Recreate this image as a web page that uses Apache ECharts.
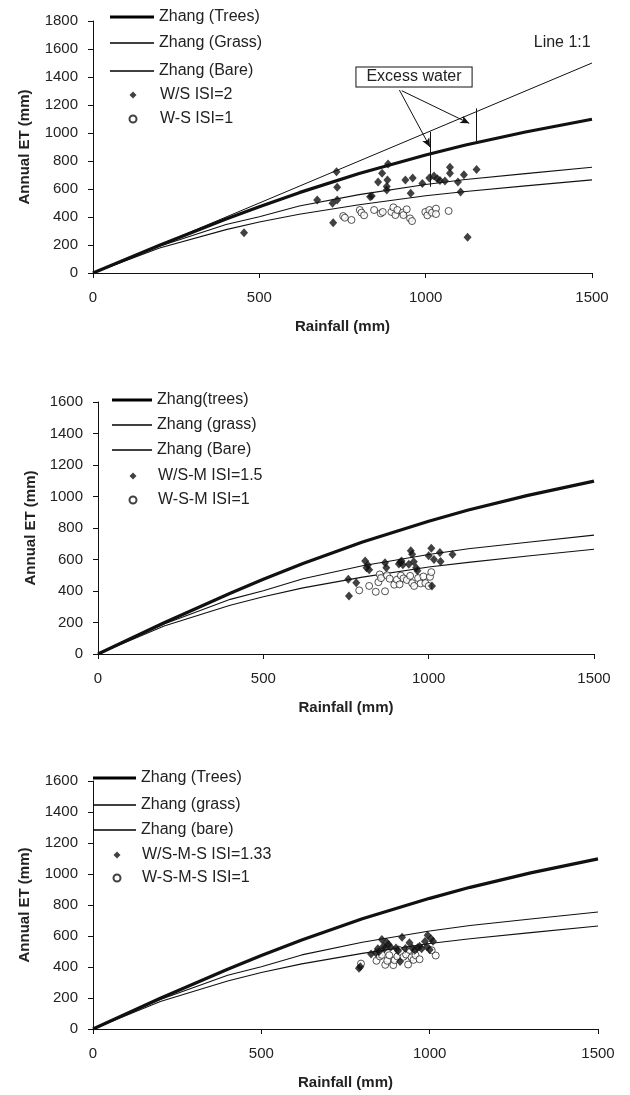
<!doctype html>
<html lang="en">
<head>
<meta charset="utf-8">
<title>Annual ET vs rainfall</title>
<script src="https://cdn.jsdelivr.net/npm/echarts@6/dist/echarts.min.js"></script>
<style>
  html, body { margin: 0; padding: 0; background: #fff; }
  #main { width: 630px; height: 1095px; }
</style>
</head>
<body>
<div id="main"></div>
<script>
// Zhang curves (same curves in all three panels)
var rainfall = [0, 200, 400, 500, 620, 800, 1000, 1120, 1300, 1500];
var etTrees  = [0, 198, 386, 474, 574, 711, 843, 914, 1007, 1098];
var etGrass  = [0, 191, 347, 402, 478, 560, 632, 668, 710, 755];
var etBare   = [0, 178, 310, 364, 420, 488, 552, 582, 622, 665];
var line11   = [[0, 0], [1500, 1500]];

// panel 1 : W/S ISI=2 (filled) and W-S ISI=1 (open)
var ws2 = [[454,288],[674,521],[720,498],[722,359],[732,724],[734,612],[734,521],[833,545],[838,550],
  [857,650],[869,712],[887,779],[885,664],[883,617],[883,593],[939,664],[961,679],[955,569],[990,640],
  [1011,679],[1025,693],[1035,674],[1043,660],[1058,657],[1073,755],[1073,712],[1097,650],[1105,579],
  [1115,702],[1153,740],[1126,255]];
var ws1 = [[752,407],[757,395],[777,379],[802,450],[807,431],[815,412],[845,450],[865,426],[871,436],
  [897,436],[903,469],[909,414],[915,450],[931,431],[933,414],[943,455],[953,390],[959,371],[999,436],
  [1005,412],[1011,450],[1019,431],[1031,460],[1031,421],[1069,443]];

// panel 2 : W/S-M ISI=1.5 and W-S-M ISI=1
var wsm15 = [[757,474],[759,368],[781,453],[808,590],[812,548],[816,565],[820,535],[868,580],[872,548],
  [910,572],[914,582],[918,590],[922,566],[940,570],[946,655],[950,633],[955,586],[962,548],[966,528],
  [1000,624],[1008,672],[1010,432],[1016,600],[1034,645],[1036,588],[1072,632]];
var wsm1 = [[790,404],[820,432],[840,395],[848,456],[852,505],[856,482],[868,398],[874,500],[882,478],
  [896,440],[904,472],[912,442],[916,498],[924,480],[934,470],[944,496],[950,450],[956,432],[968,482],
  [976,448],[984,492],[990,450],[1000,432],[1004,490],[1008,520]];

// panel 3 : W/S-M-S ISI=1.33 and W-S-M-S ISI=1
var wsms133 = [[790,392],[794,402],[826,484],[840,492],[846,518],[850,500],[858,578],[862,532],[866,520],
  [872,560],[878,545],[884,528],[900,522],[906,505],[912,436],[918,592],[928,520],[940,556],[948,522],
  [956,508],[964,524],[970,534],[976,518],[986,565],[992,530],[994,605],[1000,512],[1004,582],[1010,566]];
var wsms1 = [[796,422],[842,440],[852,468],[858,478],[868,414],[874,440],[880,476],[892,412],[896,444],
  [904,468],[908,512],[916,494],[922,466],[930,480],[936,416],[940,510],[946,462],[952,446],[958,476],
  [970,450],[1006,508],[1018,474]];

var yMax = [1800, 1600, 1600];
var legendNames = [
  ['Zhang (Trees)', 'Zhang (Grass)', 'Zhang (Bare)', 'W/S ISI=2', 'W-S ISI=1'],
  ['Zhang(trees)', 'Zhang (grass)', 'Zhang (Bare) ', 'W/S-M ISI=1.5', 'W-S-M ISI=1'],
  ['Zhang (Trees) ', 'Zhang (grass) ', 'Zhang (bare)', 'W/S-M-S ISI=1.33', 'W-S-M-S ISI=1']
];
var filledSets = [ws2, wsm15, wsms133];
var openSets = [ws1, wsm1, wsms1];

var FONT = 'Liberation Sans, Arial, Helvetica, sans-serif';
var INK = '#111';

var grids = [
  { left: 93, top: 21, width: 499, height: 252 },
  { left: 98, top: 402, width: 496, height: 252 },
  { left: 93, top: 781, width: 505, height: 248 }
];
var nameGapY = [61, 53, 61];
// legend layout per panel: line icon left/width, row centres, marker centre
var legendLayout = [
  { left: 110, width: 44, rows: [17, 43, 71, 95, 119], marker: 132 },
  { left: 112, width: 40, rows: [400, 425, 450, 476, 500], marker: 132 },
  { left: 93, width: 43, rows: [778, 805, 830, 855, 878], marker: 116 }
];

function curve(values) {
  return rainfall.map(function (r, i) { return [r, values[i]]; });
}

var xAxes = [], yAxes = [], legends = [], series = [];
var textStyle = { fontFamily: FONT, fontSize: 16, color: '#222' };

for (var p = 0; p < 3; p++) {
  xAxes.push({
    gridIndex: p, type: 'value', min: 0, max: 1500, interval: 500,
    name: 'Rainfall (mm)', nameLocation: 'middle', nameGap: 46,
    nameTextStyle: { fontFamily: FONT, fontSize: 15, fontWeight: 'bold', color: '#222' },
    axisLine: { lineStyle: { color: INK, width: 1 } },
    axisTick: { length: 5, lineStyle: { color: INK } },
    axisLabel: { margin: 17, fontFamily: FONT, fontSize: 15, color: '#222',
      formatter: function (v) { return String(v); } },
    splitLine: { show: false }
  });
  yAxes.push({
    gridIndex: p, type: 'value', min: 0, max: yMax[p], interval: 200,
    name: 'Annual ET (mm)', nameLocation: 'middle', nameGap: nameGapY[p],
    nameTextStyle: { fontFamily: FONT, fontSize: 15, fontWeight: 'bold', color: '#222' },
    axisLine: { show: true, lineStyle: { color: INK, width: 1 } },
    axisTick: { show: true, length: 5, lineStyle: { color: INK } },
    axisLabel: { margin: 15, fontFamily: FONT, fontSize: 15, color: '#222',
      formatter: function (v) { return String(v); } },
    splitLine: { show: false }
  });

  var names = legendNames[p];
  var L = legendLayout[p];
  // thick line entry
  legends.push({
    orient: 'vertical', left: L.left, top: L.rows[0] - 8, padding: 0,
    itemWidth: L.width, itemHeight: 3, selectedMode: false, textStyle: textStyle,
    data: [{ name: names[0], icon: 'rect' }]
  });
  // thin line entries
  legends.push({
    orient: 'vertical', left: L.left, top: L.rows[1] - 8, padding: 0,
    itemWidth: L.width, itemHeight: 1.4, itemGap: L.rows[2] - L.rows[1] - 16,
    selectedMode: false, textStyle: textStyle,
    data: [{ name: names[1], icon: 'rect' }, { name: names[2], icon: 'rect' }]
  });
  // markers
  var pad = L.left + L.width + 5 - (L.marker + 3.5 + 5);
  legends.push({
    orient: 'vertical', left: L.marker - 3.5, top: L.rows[3] - 8, padding: 0,
    itemWidth: 7, itemHeight: 7, itemGap: L.rows[4] - L.rows[3] - 16,
    selectedMode: false,
    textStyle: { fontFamily: FONT, fontSize: 16, color: '#222', padding: [0, 0, 0, pad] },
    data: [names[3], names[4]]
  });

  [etTrees, etGrass, etBare].forEach(function (vals, k) {
    series.push({
      name: names[k], type: 'line', xAxisIndex: p, yAxisIndex: p,
      data: curve(vals), symbol: 'none', smooth: false,
      lineStyle: { color: INK, width: k === 0 ? 3.2 : 1.1 },
      itemStyle: { color: '#000' },
      z: 2
    });
  });
  series.push({
    name: names[3], type: 'scatter', xAxisIndex: p, yAxisIndex: p,
    data: filledSets[p], symbol: 'diamond', symbolSize: [8, 9],
    itemStyle: { color: INK }, z: 4
  });
  series.push({
    name: names[4], type: 'scatter', xAxisIndex: p, yAxisIndex: p,
    data: openSets[p], symbol: 'circle', symbolSize: 7,
    itemStyle: { color: '#fff', borderColor: INK, borderWidth: 0.9 }, z: 3
  });
}

// 1:1 line and the "Excess water" annotation of panel 1
series.push({
  name: 'Line 1:1', type: 'line', xAxisIndex: 0, yAxisIndex: 0,
  data: line11, symbol: 'none',
  lineStyle: { color: INK, width: 1 }, z: 2,
  markLine: {
    silent: true, symbol: ['none', 'arrow'], symbolSize: [6, 9],
    label: { show: false },
    lineStyle: { color: INK, width: 1, type: 'solid' },
    data: [
      [{ coord: [921, 1307] }, { coord: [1013, 900] }],
      [{ coord: [928, 1302] }, { coord: [1131, 1069] }],
      [{ coord: [1013, 1009], symbol: 'none' }, { coord: [1013, 616], symbol: 'none' }],
      [{ coord: [1153, 1176], symbol: 'none' }, { coord: [1153, 943], symbol: 'none' }]
    ]
  },
  markPoint: {
    silent: true, symbol: 'rect', symbolSize: 0,
    data: [
      {
        coord: [1496, 1643],
        label: { show: true, position: 'left', distance: 0, formatter: 'Line 1:1',
          fontFamily: FONT, fontSize: 16, color: '#222' }
      },
      {
        coord: [965, 1400],
        label: { show: true, position: 'inside', formatter: 'Excess water',
          fontFamily: FONT, fontSize: 16, color: '#222',
          backgroundColor: '#fff', borderColor: INK, borderWidth: 1, padding: [2, 10, 1, 10] }
      }
    ]
  }
});

var myChart = echarts.init(document.getElementById('main'), null, { renderer: 'canvas' });
myChart.setOption({
  animation: false,
  backgroundColor: '#fff',
  grid: grids,
  xAxis: xAxes,
  yAxis: yAxes,
  legend: legends,
  series: series
});
</script>
</body>
</html>
